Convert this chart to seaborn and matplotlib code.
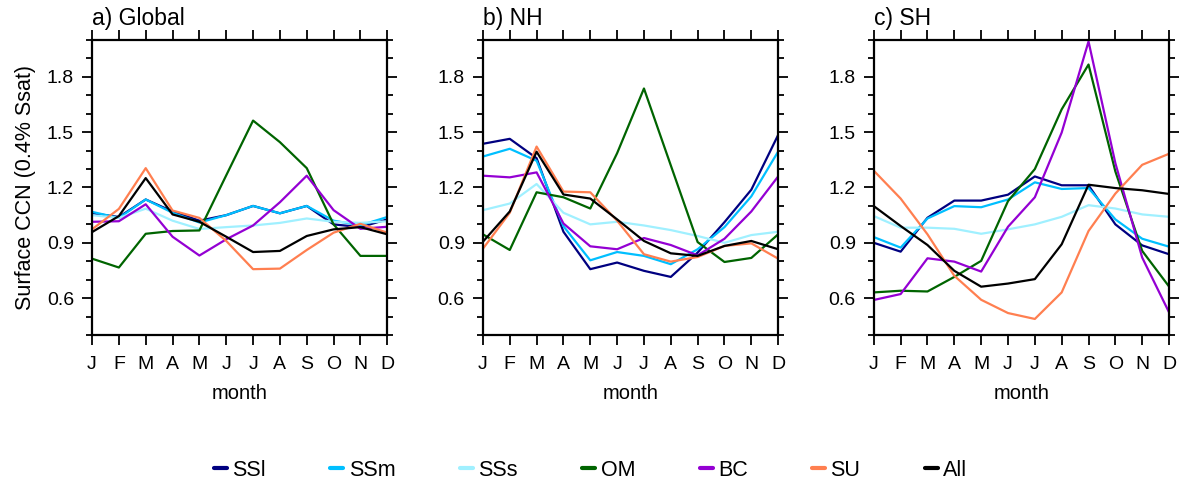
import numpy as np
import pandas as pd
import matplotlib
matplotlib.use("Agg")
import matplotlib.pyplot as plt
from matplotlib.ticker import MultipleLocator
from matplotlib.lines import Line2D
import seaborn as sns

months = ["J", "F", "M", "A", "M", "J", "J", "A", "S", "O", "N", "D"]
species = ["SSl", "SSm", "SSs", "OM", "BC", "SU", "All"]
colors = ["#000080", "#00BFFF", "#A0F0FF", "#006400", "#9400D3", "#FF7F50", "#000000"]
panel_titles = ["a) Global", "b) NH", "c) SH"]

# Global
glob_SSl = [1.06, 1.04, 1.135, 1.07, 1.02, 1.05, 1.10, 1.06, 1.10, 1.00, 0.985, 1.027]
glob_SSm = [1.068, 1.035, 1.135, 1.063, 1.01, 1.05, 1.10, 1.06, 1.10, 1.02, 0.995, 1.04]
glob_SSs = [1.05, 1.035, 1.085, 1.02, 0.975, 0.985, 0.994, 1.008, 1.032, 1.014, 1.008, 1.017]
glob_OM = [0.814, 0.766, 0.949, 0.964, 0.967, 1.266, 1.563, 1.446, 1.305, 1.0, 0.829, 0.829]
glob_BC = [1.014, 1.017, 1.109, 0.933, 0.831, 0.919, 0.994, 1.12, 1.264, 1.077, 0.976, 0.987]
glob_SU = [0.973, 1.084, 1.305, 1.075, 1.035, 0.91, 0.757, 0.760, 0.861, 0.955, 1.003, 0.955]
glob_All = [0.958, 1.045, 1.251, 1.054, 1.014, 0.933, 0.850, 0.856, 0.937, 0.973, 0.985, 0.946]

# NH
nh_SSl = [1.437, 1.464, 1.359, 0.96, 0.757, 0.793, 0.748, 0.715, 0.847, 1.012, 1.188, 1.485]
nh_SSm = [1.368, 1.41, 1.345, 0.99, 0.805, 0.85, 0.829, 0.784, 0.865, 0.985, 1.152, 1.395]
nh_SSs = [1.077, 1.113, 1.219, 1.063, 1.0, 1.014, 0.994, 0.969, 0.937, 0.9, 0.942, 0.96]
nh_OM = [0.946, 0.861, 1.174, 1.147, 1.086, 1.386, 1.737, 1.32, 0.904, 0.796, 0.818, 0.946]
nh_BC = [1.264, 1.255, 1.282, 1.005, 0.881, 0.865, 0.926, 0.888, 0.832, 0.922, 1.07, 1.26]
nh_SU = [0.868, 1.063, 1.422, 1.178, 1.174, 1.02, 0.838, 0.798, 0.823, 0.883, 0.897, 0.814]
nh_All = [0.906, 1.07, 1.394, 1.162, 1.14, 1.027, 0.91, 0.843, 0.829, 0.883, 0.91, 0.865]

# SH
sh_SSl = [0.9, 0.852, 1.036, 1.129, 1.129, 1.161, 1.26, 1.212, 1.212, 1.0, 0.886, 0.838]
sh_SSm = [0.931, 0.874, 1.032, 1.099, 1.093, 1.135, 1.228, 1.192, 1.197, 1.027, 0.922, 0.879]
sh_SSs = [1.045, 0.982, 0.982, 0.976, 0.949, 0.973, 1.0, 1.041, 1.104, 1.086, 1.054, 1.041]
sh_OM = [0.631, 0.64, 0.636, 0.715, 0.802, 1.126, 1.3, 1.624, 1.867, 1.287, 0.856, 0.663]
sh_BC = [0.59, 0.622, 0.816, 0.798, 0.744, 0.987, 1.147, 1.498, 1.992, 1.332, 0.82, 0.523]
sh_SU = [1.291, 1.14, 0.946, 0.721, 0.591, 0.519, 0.487, 0.631, 0.964, 1.167, 1.323, 1.383]
sh_All = [1.099, 0.991, 0.888, 0.748, 0.662, 0.679, 0.703, 0.892, 1.215, 1.197, 1.185, 1.165]

panels = [
    [glob_SSl, glob_SSm, glob_SSs, glob_OM, glob_BC, glob_SU, glob_All],
    [nh_SSl, nh_SSm, nh_SSs, nh_OM, nh_BC, nh_SU, nh_All],
    [sh_SSl, sh_SSm, sh_SSs, sh_OM, sh_BC, sh_SU, sh_All],
]

sns.set_theme(style="ticks")
plt.rcParams["font.family"] = ["Liberation Sans", "DejaVu Sans"]
plt.rcParams["text.color"] = "black"
plt.rcParams["axes.labelcolor"] = "black"
plt.rcParams["xtick.color"] = "black"
plt.rcParams["ytick.color"] = "black"

fig, axes = plt.subplots(1, 3, figsize=(11.86, 4.82), dpi=100)
fig.subplots_adjust(left=0.0776, right=0.9857, top=0.917, bottom=0.305, wspace=0.324)

palette = dict(zip(species, colors))
month_idx = np.arange(12)

for ax, title, series in zip(axes, panel_titles, panels):
    rows = []
    for sp, vals in zip(species, series):
        for m, v in zip(month_idx, vals):
            rows.append({"month": m, "value": v, "species": sp})
    df = pd.DataFrame(rows)
    sns.lineplot(data=df, x="month", y="value", hue="species", hue_order=species,
                 palette=palette, ax=ax, legend=False, linewidth=1.6)
    ax.set_xlim(0, 11)
    ax.set_ylim(0.4, 2.0)
    ax.set_xticks(month_idx)
    ax.set_xticklabels(months)
    ax.set_yticks([0.6, 0.9, 1.2, 1.5, 1.8])
    ax.yaxis.set_minor_locator(MultipleLocator(0.1))
    ax.tick_params(which="both", direction="out", top=True, right=True,
                   labelsize=14, width=1.3, colors="black")
    ax.tick_params(axis="x", pad=8)
    ax.tick_params(axis="y", pad=6)
    ax.tick_params(which="major", length=7)
    ax.tick_params(which="minor", length=4)
    for s in ax.spines.values():
        s.set_linewidth(1.6)
        s.set_color("black")
    ax.set_xlabel("month", fontsize=14.5, labelpad=8, color="black")
    ax.set_ylabel("")
    ax.set_title(title, loc="left", fontsize=16.5, pad=11, color="black")

axes[0].set_ylabel("Surface CCN (0.4% Ssat)", fontsize=15.5, labelpad=8, color="black")

handles = [Line2D([0], [0], color=c, lw=3) for c in colors]
fig.legend(handles, species, loc="center", bbox_to_anchor=(0.498, 1 - 470 / 482),
           ncol=7, frameon=False, fontsize=15.5, handlelength=0.6, handletextpad=0.25,
           columnspacing=3.0)

fig.savefig("out.png", dpi=100)
